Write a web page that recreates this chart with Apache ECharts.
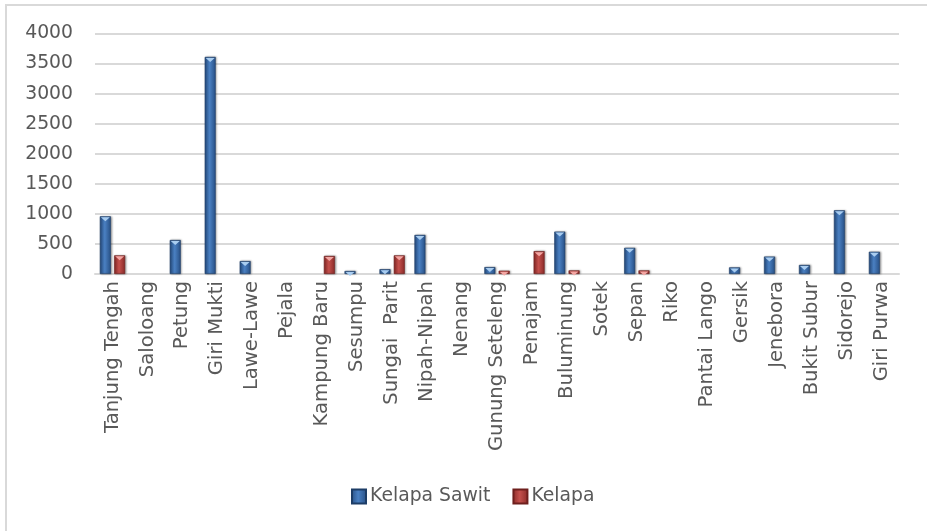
<!DOCTYPE html>
<html>
<head>
<meta charset="utf-8">
<title>Kelapa Sawit dan Kelapa per Desa</title>
<script src="https://cdn.jsdelivr.net/npm/echarts@6/dist/echarts.min.js"></script>
<style>
  html, body { margin: 0; padding: 0; background: #ffffff; }
  #chart { width: 927px; height: 531px; }
</style>
</head>
<body>
<div id="chart"></div>
<script>
// Villages along the category axis
const categories = [
  'Tanjung Tengah', 'Saloloang', 'Petung', 'Giri Mukti', 'Lawe-Lawe', 'Pejala',
  'Kampung Baru', 'Sesumpu', 'Sungai  Parit', 'Nipah-Nipah', 'Nenang',
  'Gunung Seteleng', 'Penajam', 'Buluminung', 'Sotek', 'Sepan', 'Riko',
  'Pantai Lango', 'Gersik', 'Jenebora', 'Bukit Subur', 'Sidorejo', 'Giri Purwa'
];

// Kelapa Sawit (oil palm) per village
const kelapaSawit = [
  960, 0, 565, 3610, 215, 0,
  0, 50, 80, 650, 0,
  115, 0, 705, 0, 435, 0,
  0, 110, 290, 150, 1060, 370
];

// Kelapa (coconut) per village
const kelapa = [
  310, 0, 0, 0, 0, 0,
  300, 0, 310, 0, 0,
  55, 380, 60, 0, 60, 0,
  0, 0, 0, 0, 0, 0
];

const seriesNames = ['Kelapa Sawit', 'Kelapa'];

const font = 'DejaVu Sans';
const textColor = '#595959';
const gridColor = '#d9d9d9';

function shade(edge, mid) {
  return {
    type: 'linear', x: 0, y: 0, x2: 1, y2: 0,
    colorStops: [
      { offset: 0, color: edge },
      { offset: 0.45, color: mid },
      { offset: 1, color: edge }
    ]
  };
}

const blueFill = shade('#274f84', '#4a80c2');
const redFill = shade('#8a2a28', '#c4504c');

// empty villages get no bar at all
const shown = arr => arr.map(v => (v > 0 ? v : '-'));

// bevelled highlight sitting on top of each non-zero bar
const capPath = 'path://M0,0 L10,0 L5,4 Z';

const chart = echarts.init(document.getElementById('chart'), null, { renderer: 'canvas' });

chart.setOption({
  backgroundColor: '#ffffff',
  animation: false,
  graphic: [{
    type: 'rect',
    z: -10,
    shape: { x: 6, y: 5, width: 1000, height: 1000 },
    style: { fill: 'none', stroke: '#d9d9d9', lineWidth: 2 }
  }],
  grid: { left: 95, right: 28, top: 33.5, height: 240.5, containLabel: false },
  legend: {
    data: seriesNames,
    left: 346,
    top: 482,
    itemWidth: 14,
    itemHeight: 14,
    itemGap: 22,
    icon: 'rect',
    textStyle: { fontFamily: font, fontSize: 18.8, color: textColor, padding: [0, 0, 0, -1] }
  },
  xAxis: {
    type: 'category',
    data: categories,
    axisLine: { show: true, lineStyle: { color: gridColor, width: 2 } },
    axisTick: { show: false },
    axisLabel: {
      interval: 0,
      rotate: 90,
      margin: 7,
      fontFamily: font,
      fontSize: 19.6,
      color: textColor
    }
  },
  yAxis: {
    type: 'value',
    min: 0,
    max: 4000,
    interval: 500,
    axisLine: { show: false },
    axisTick: { show: false },
    splitLine: { show: true, lineStyle: { color: gridColor, width: 2 } },
    axisLabel: {
      margin: 22,
      fontFamily: font,
      fontSize: 18.8,
      color: textColor,
      formatter: v => String(v)
    }
  },
  series: [
    {
      name: seriesNames[0],
      type: 'bar',
      data: shown(kelapaSawit),
      barWidth: 11,
      barGap: '30%',
      itemStyle: {
        color: blueFill,
        borderColor: '#1d3d66',
        borderWidth: 0.6,
        shadowColor: 'rgba(0,0,0,0.35)',
        shadowBlur: 2,
        shadowOffsetX: 1,
        shadowOffsetY: 0
      }
    },
    {
      name: seriesNames[1],
      type: 'bar',
      data: shown(kelapa),
      barWidth: 11,
      barGap: '30%',
      itemStyle: {
        color: redFill,
        borderColor: '#6e1f1d',
        borderWidth: 0.6,
        shadowColor: 'rgba(0,0,0,0.35)',
        shadowBlur: 2,
        shadowOffsetX: 1,
        shadowOffsetY: 0
      }
    },
    {
      name: 'cap-sawit',
      type: 'pictorialBar',
      data: shown(kelapaSawit),
      symbol: capPath,
      symbolSize: [9, 4],
      symbolPosition: 'end',
      symbolOffset: [0, 1],
      barWidth: 11,
      barGap: '30%',
      z: 5,
      itemStyle: { color: '#a9cdf0' },
      tooltip: { show: false }
    },
    {
      name: 'cap-kelapa',
      type: 'pictorialBar',
      data: shown(kelapa),
      symbol: capPath,
      symbolSize: [9, 4],
      symbolPosition: 'end',
      symbolOffset: [0, 1],
      barWidth: 11,
      barGap: '30%',
      z: 5,
      itemStyle: { color: '#f3a6a3' },
      tooltip: { show: false }
    }
  ]
});
</script>
</body>
</html>
